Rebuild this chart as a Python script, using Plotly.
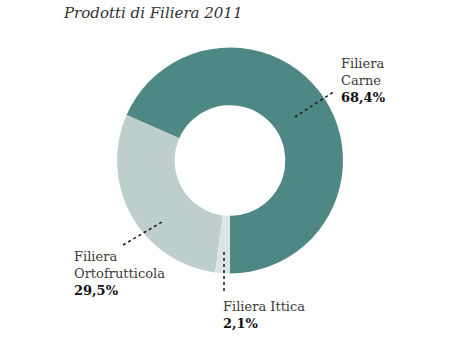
import plotly.graph_objects as go

labels = ["Filiera Carne", "Filiera Ortofrutticola", "Filiera Ittica"]
values = [68.4, 29.5, 2.1]
value_text = ["68,4%", "29,5%", "2,1%"]
label_lines = [["Filiera", "Carne"], ["Filiera", "Ortofrutticola"], ["Filiera Ittica"]]
colors = ["#4e8885", "#bdcecd", "#dbe5e4"]

W, H = 460, 338
cx, cy, R = 230, 160.5, 113

def px(x):
    return x / W

def py(y):
    return 1 - y / H

# first slice ends at 6 o'clock; others continue counterclockwise from its start
rotation = 180 - 360 * values[0] / sum(values)

fig = go.Figure()
fig.add_trace(go.Pie(
    labels=labels,
    values=values,
    sort=False,
    direction="counterclockwise",
    rotation=rotation,
    hole=0.49,
    marker=dict(colors=colors, line=dict(width=0)),
    textinfo="none",
    hoverinfo="label+percent",
    showlegend=False,
    domain=dict(x=[px(cx - R), px(cx + R)], y=[py(cy + R), py(cy - R)]),
))

font_family = "DejaVu Serif, Noto Serif, serif"

# label placements (top-left of text block) and leader lines, in pixels
label_pos = [(339, 54), (72, 247), (221, 297)]
leaders = [((295, 117), (335, 91)), ((123, 245), (162, 222)), ((224, 252), (224, 292))]

for lines, vt, (lx, ly) in zip(label_lines, value_text, label_pos):
    txt = "<br>".join(lines) + "<br><b><span style='color:#111'>" + vt + "</span></b>"
    fig.add_annotation(
        x=px(lx), y=py(ly), xref="paper", yref="paper",
        xanchor="left", yanchor="top", align="left",
        text=txt, showarrow=False,
        font=dict(family=font_family, size=13, color="#3a3a3a"),
    )

for (x0, y0), (x1, y1) in leaders:
    fig.add_shape(
        type="line", xref="paper", yref="paper",
        x0=px(x0), y0=py(y0), x1=px(x1), y1=py(y1),
        line=dict(color="#222222", width=1.6, dash="dot"),
    )

fig.add_annotation(
    x=px(61), y=py(13), xref="paper", yref="paper",
    xanchor="left", yanchor="middle",
    text="<i>Prodotti di Filiera 2011</i>", showarrow=False,
    font=dict(family=font_family, size=15, color="#333333"),
)

fig.update_layout(
    width=W, height=H,
    margin=dict(l=0, r=0, t=0, b=0),
    paper_bgcolor="white",
    plot_bgcolor="white",
)

fig.write_html("out.html")
